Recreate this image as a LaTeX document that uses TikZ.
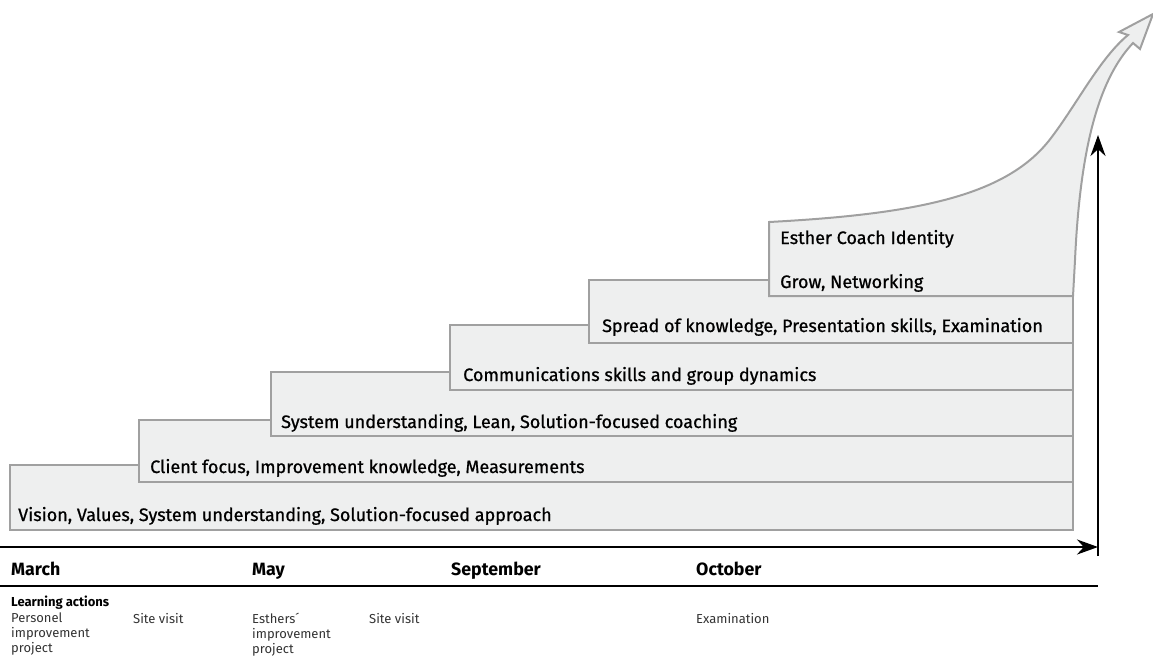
\documentclass[tikz,border=0pt]{standalone}
\usepackage{fontspec}
\setmainfont{Fira Sans}
\newfontfamily\medfont{Fira Sans}[FakeBold=0.8]
\usetikzlibrary{arrows.meta}
\definecolor{stepfill}{HTML}{EEEFEF}
\definecolor{stepline}{HTML}{A0A0A0}
\tikzset{
  stepbox/.style={fill=stepfill,draw=stepline,line width=2pt},
  steptext/.style={anchor=base west,inner sep=0pt,font=\medfont\fontsize{18}{21}\selectfont},
  monthtext/.style={anchor=base west,inner sep=0pt,font=\fontsize{17.8}{20}\selectfont\bfseries},
  smalltext/.style={anchor=north west,inner sep=0pt,align=left,font=\fontsize{13}{14.7}\selectfont\color{black!80}},
  headtext/.style={anchor=base west,inner sep=0pt,font=\fontsize{13}{14.5}\selectfont\bfseries},
  axis/.style={line width=2.5pt,-{Stealth[length=21pt,width=15pt]}}
}
\begin{document}
\begin{tikzpicture}[x=1pt,y=-1pt]
\useasboundingbox (0,0) rectangle (1153,657);
% steps
\draw[stepbox] (10,465) rectangle (1073,530);
\draw[stepbox] (139,420) rectangle (1073,482);
\draw[stepbox] (271,372) rectangle (1073,436);
\draw[stepbox] (450,325) rectangle (1073,390);
\draw[stepbox] (589,280) rectangle (1073,343);
\draw[stepbox,line join=miter] (769,296) -- (769,222)
  .. controls (920,214) and (1008,195) .. (1051,138)
  .. controls (1077,104) and (1100,58) .. (1128,35)
  -- (1119,32) -- (1153,14) -- (1140,49) -- (1133,43)
  .. controls (1098,80) and (1080,150) .. (1075,260)
  -- (1073,296) -- cycle;
% step texts
\node[steptext] (s1) at (18,521) {Vision, Values, System understanding, Solution-focused approach};
\node[steptext] (s2) at (150,473) {Client focus, Improvement knowledge, Measurements};
\node[steptext] (s3) at (281,428) {System understanding, Lean, Solution-focused coaching};
\node[steptext] (s4) at (463,381) {Communications skills and group dynamics};
\node[steptext] (s5) at (602,332) {Spread of knowledge, Presentation skills, Examination};
\node[steptext] (s6a) at (780,288) {Grow, Networking};
\node[steptext] (s6b) at (780,244) {Esther Coach Identity};
% axes
\coordinate (hstart) at (0,547);
\coordinate (hend) at (1098,547);
\coordinate (vstart) at (1098,556);
\coordinate (vend) at (1098,135);
\draw[axis] (hstart) -- (hend);
\draw[axis] (vstart) -- (vend);
\coordinate (lstart) at (0,586);
\coordinate (lend) at (1098,586);
\draw[line width=1.5pt] (lstart) -- (lend);
% months
\node[monthtext] (m1) at (11,575) {March};
\node[monthtext] (m2) at (252,575) {May};
\node[monthtext] (m3) at (451,575) {September};
\node[monthtext] (m4) at (696,575) {October};
% learning actions
\node[headtext] (la) at (11,606) {Learning actions};
\node[smalltext] (a1) at (11,613) {Personel\\improvement\\project};
\node[smalltext] (a2) at (133,613) {Site visit};
\node[smalltext] (a3) at (252,613) {Esthers´\\improvement\\project};
\node[smalltext] (a4) at (369,613) {Site visit};
\node[smalltext] (a5) at (696,613) {Examination};
\end{tikzpicture}
\end{document}
